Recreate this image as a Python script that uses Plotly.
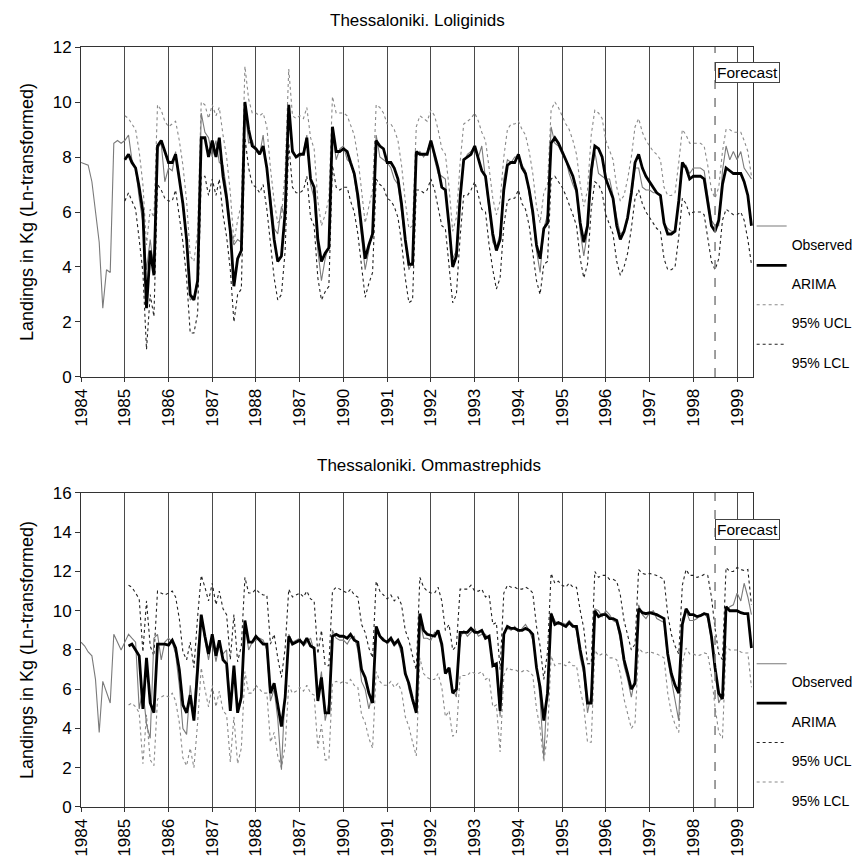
import pandas as pd
import plotly.graph_objects as go

# ---------------- data ----------------
MONTHS = pd.date_range("1984-01-01", "1999-05-01", freq="MS")
YEAR_TICKS = [f"{y}-01-01" for y in range(1984, 2000)]
YEAR_LABELS = ["1984", "1985", "1986", "1987", "1988", "1987", "1990", "1991",
               "1992", "1993", "1994", "1995", "1996", "1997", "1998", "1999"]
FORECAST_START = "1998-07-01"

# Thessaloniki. Loliginids (Jan 1984 - May 1999)
lol_observed = [
    7.8, 7.75, 7.7, 7.1, 6.1, 4.9, 2.5, 3.9, 3.8, 8.5, 8.6, 8.5,
    8.6, 8.8, 7.9, 7.6, 6.5, 5.6, 3.9, 5.0, 3.9, 8.3, 8.5, 7.1,
    7.6, 7.5, 8.2, 7.3, 6.2, 5.0, 2.8, 2.9, 3.6, 9.6, 8.9, 8.7,
    8.0, 8.6, 7.8, 7.7, 6.8, 5.5, 4.8, 5.0, 4.9, 9.8, 8.5, 8.6,
    8.2, 8.1, 8.8, 7.5, 6.6, 5.4, 5.2, 6.2, 5.8, 9.9, 8.3, 8.0,
    8.0, 8.2, 8.8, 7.0, 6.5, 4.6, 3.5, 4.3, 4.8, 8.9, 7.9, 8.3,
    8.4, 7.9, 7.8, 7.3, 6.3, 5.0, 3.9, 4.6, 5.4, 8.8, 8.0, 7.9,
    7.8, 7.6, 7.2, 7.0, 6.0, 4.8, 3.9, 4.2, 8.0, 8.2, 8.0, 8.2,
    8.6, 7.9, 7.4, 7.3, 7.2, 5.3, 4.3, 4.6, 6.8, 7.8, 8.1, 8.2,
    8.4, 8.0, 8.4, 7.2, 6.0, 4.9, 4.7, 5.2, 7.2, 7.9, 7.8, 8.0,
    8.0, 7.7, 7.5, 6.6, 5.8, 4.6, 3.8, 5.4, 5.9, 9.1, 8.5, 8.4,
    8.1, 7.9, 7.4, 7.0, 6.7, 5.3, 4.4, 5.3, 7.2, 8.2, 7.4, 7.3,
    7.2, 7.2, 6.6, 5.8, 5.2, 5.3, 5.7, 6.5, 7.6, 7.6, 6.9, 6.8,
    6.8, 6.7, 6.7, 6.6, 5.6, 5.4, 5.3, 5.3, 6.6, 7.6, 7.7, 7.4,
    7.6, 7.6, 7.6, 7.5, 6.6, 5.7, 5.5, 5.5, 7.5, 8.4, 7.9, 8.2,
    7.9, 8.2, 7.6, 7.4, 7.2,
]
# ARIMA and limits from Jan 1985
lol_arima = [
    7.9, 8.1, 7.8, 7.6, 6.9, 6.0, 2.5, 4.6, 3.7, 8.4, 8.6, 8.2,
    7.8, 7.8, 8.1, 7.2, 6.3, 5.0, 3.0, 2.8, 3.5, 8.7, 8.7, 8.0,
    8.6, 8.0, 8.7, 7.3, 6.5, 5.3, 3.3, 4.3, 4.6, 10.0, 9.0, 8.4,
    8.3, 8.1, 8.4, 7.6, 6.2, 5.0, 4.2, 4.4, 6.0, 9.9, 8.2, 8.0,
    8.1, 8.1, 8.7, 7.2, 6.9, 5.0, 4.2, 4.5, 4.7, 9.1, 8.2, 8.2,
    8.3, 8.2, 7.8, 7.4, 6.6, 5.3, 4.3, 4.8, 5.2, 8.6, 8.4, 8.3,
    7.8, 7.8, 7.6, 7.2, 6.3, 5.0, 4.1, 4.1, 8.2, 8.1, 8.1, 8.1,
    8.6, 8.1, 7.6, 6.9, 6.8, 5.5, 4.0, 4.4, 6.5, 7.9, 8.0, 8.1,
    8.4, 7.9, 7.5, 7.3, 6.2, 5.2, 4.6, 5.0, 6.8, 7.7, 7.8, 7.8,
    8.1, 7.6, 7.4, 6.8, 6.0, 4.8, 4.3, 5.4, 5.6, 8.5, 8.7, 8.5,
    8.2, 7.9, 7.6, 7.3, 6.8, 5.6, 4.9, 5.5, 7.5, 8.4, 8.3, 8.0,
    7.2, 6.8, 6.5, 5.5, 5.0, 5.3, 5.8, 6.7, 7.8, 8.1, 7.6, 7.3,
    7.1, 6.9, 6.7, 6.6, 5.6, 5.2, 5.2, 5.3, 6.4, 7.8, 7.6, 7.2,
    7.3, 7.3, 7.3, 7.2, 6.4, 5.5, 5.3, 5.7, 7.0, 7.6, 7.5, 7.4,
    7.4, 7.4, 7.1, 6.6, 5.5,
]
lol_ucl = [
    9.5, 9.4, 9.2, 9.0, 8.2, 7.0, 4.8, 6.1, 5.8, 9.9, 9.7, 9.3,
    9.1, 9.2, 9.3, 8.6, 7.7, 6.4, 4.4, 4.2, 5.3, 10.0, 9.9, 9.4,
    9.9, 9.5, 9.8, 8.8, 8.0, 6.7, 4.9, 5.7, 6.3, 11.3, 10.1, 9.6,
    9.6, 9.5, 9.6, 9.1, 7.6, 6.4, 5.6, 5.8, 7.5, 11.2, 9.5, 9.4,
    9.5, 9.4, 9.8, 8.7, 8.3, 6.4, 5.5, 5.9, 6.5, 10.2, 9.6, 9.6,
    9.6, 9.5, 9.2, 8.8, 8.0, 6.8, 5.6, 6.2, 6.8, 9.9, 9.8, 9.6,
    9.2, 9.2, 9.0, 8.6, 7.7, 6.4, 5.4, 5.5, 9.1, 9.5, 9.4, 9.3,
    9.7, 9.5, 9.0, 8.3, 8.1, 6.9, 5.3, 5.8, 7.8, 9.2, 9.3, 9.4,
    9.6, 9.3, 8.9, 8.6, 7.6, 6.5, 5.9, 6.4, 8.0, 9.0, 9.2, 9.2,
    9.3, 9.0, 8.8, 8.2, 7.4, 6.2, 5.6, 6.7, 7.0, 9.7, 10.0, 9.8,
    9.5, 9.2, 9.0, 8.6, 8.1, 7.0, 6.2, 6.8, 8.8, 9.7, 9.6, 9.4,
    8.6, 8.2, 7.9, 6.9, 6.4, 6.6, 7.2, 8.0, 9.1, 9.4, 8.9, 8.6,
    8.4, 8.2, 8.1, 7.9, 6.9, 6.6, 6.6, 6.7, 7.8, 9.0, 8.8, 8.5,
    8.5, 8.5, 8.5, 8.4, 7.7, 6.8, 6.5, 6.9, 8.2, 9.0, 9.0, 8.9,
    8.9, 8.9, 8.6, 8.2, 7.3,
]
lol_lcl = [
    6.4, 6.7, 6.4, 6.1, 5.0, 3.8, 1.0, 3.0, 2.2, 7.0, 6.8, 6.5,
    6.4, 6.4, 6.8, 5.8, 4.9, 3.6, 1.6, 1.6, 2.3, 7.3, 7.3, 6.6,
    7.2, 6.6, 7.2, 5.9, 5.1, 3.9, 2.0, 3.0, 3.2, 8.7, 7.6, 7.0,
    6.9, 6.7, 7.0, 6.1, 4.8, 3.6, 2.8, 3.0, 4.6, 8.5, 6.9, 6.7,
    6.7, 6.8, 7.3, 5.8, 5.5, 3.6, 2.8, 3.1, 3.3, 7.7, 6.9, 6.8,
    6.9, 6.9, 6.4, 6.0, 5.2, 3.9, 2.9, 3.4, 3.8, 7.2, 7.0, 6.9,
    6.5, 6.4, 6.2, 5.8, 4.9, 3.6, 2.7, 2.8, 6.8, 6.8, 6.7, 6.8,
    7.2, 6.8, 6.2, 5.5, 5.4, 4.1, 2.7, 3.0, 5.1, 6.6, 6.6, 6.8,
    7.1, 6.6, 6.1, 6.0, 4.8, 3.9, 3.2, 3.6, 5.5, 6.4, 6.5, 6.5,
    6.8, 6.3, 6.1, 5.5, 4.6, 3.5, 3.0, 4.1, 4.2, 7.2, 7.3, 7.1,
    6.9, 6.6, 6.3, 5.9, 5.5, 4.3, 3.6, 4.1, 6.1, 7.1, 7.0, 6.7,
    5.9, 5.5, 5.2, 4.2, 3.7, 4.0, 4.5, 5.4, 6.5, 6.8, 6.3, 6.0,
    5.8, 5.6, 5.4, 5.3, 4.3, 3.9, 3.9, 4.0, 5.1, 6.5, 6.3, 5.9,
    6.0, 6.0, 6.0, 5.9, 5.1, 4.2, 3.9, 4.3, 5.7, 6.1, 6.0, 5.9,
    5.9, 6.0, 5.7, 5.0, 4.1,
]

# Thessaloniki. Ommastrephids (Jan 1984 - May 1999)
omm_observed = [
    8.4, 8.2, 7.9, 7.7, 6.5, 3.8, 6.4, 5.8, 5.3, 8.8, 8.4, 8.0,
    8.4, 8.8, 8.6, 8.4, 5.0, 6.0, 4.2, 3.5, 8.6, 8.8, 7.5, 8.4,
    8.6, 8.4, 7.8, 6.2, 4.0, 3.7, 6.2, 4.6, 8.0, 9.6, 8.5, 7.5,
    8.6, 7.4, 8.3, 7.8, 8.0, 5.0, 7.0, 4.8, 5.4, 9.4, 8.0, 8.4,
    8.5, 8.6, 8.5, 8.0, 5.4, 6.0, 4.5, 1.9, 6.0, 8.8, 8.4, 8.5,
    8.6, 8.2, 8.4, 8.6, 7.9, 5.7, 6.9, 4.4, 5.3, 9.0, 8.6, 8.5,
    8.5, 8.3, 8.6, 8.7, 8.0, 6.4, 6.0, 5.0, 5.8, 8.9, 8.7, 8.6,
    8.3, 8.5, 8.2, 8.4, 7.8, 7.0, 6.0, 5.3, 5.0, 9.5, 8.6, 8.6,
    8.5, 8.9, 8.8, 8.1, 7.0, 6.8, 6.0, 5.6, 8.6, 9.0, 8.7, 8.9,
    9.1, 8.7, 8.8, 8.8, 8.5, 7.5, 7.0, 4.6, 8.9, 9.1, 9.0, 9.2,
    8.9, 9.1, 9.3, 9.0, 8.5, 7.3, 5.5, 2.5, 6.3, 9.9, 9.5, 9.3,
    9.4, 9.3, 9.5, 9.3, 9.0, 7.6, 6.8, 4.8, 5.8, 10.1, 10.0, 9.7,
    10.0, 9.8, 9.5, 9.4, 8.5, 7.2, 6.5, 5.6, 6.6, 10.3, 9.8, 9.6,
    9.9, 10.0, 9.6, 9.5, 9.4, 7.5, 6.5, 5.6, 4.4, 9.6, 10.0, 9.5,
    9.5, 9.6, 9.8, 9.9, 9.6, 8.5, 6.8, 5.3, 5.7, 10.0, 10.2, 10.3,
    10.9, 10.5, 11.4, 10.7, 9.8,
]
# ARIMA and limits from Feb 1985
omm_arima = [
    8.2, 8.3, 8.0, 7.7, 5.0, 7.6, 5.3, 4.8, 8.3, 8.3, 8.3,
    8.25, 8.5, 8.1, 7.0, 5.2, 4.8, 5.7, 4.4, 7.0, 9.8, 8.7, 7.8,
    8.8, 7.7, 8.5, 7.5, 7.3, 4.9, 7.2, 4.8, 5.6, 9.5, 8.4, 8.4,
    8.7, 8.5, 8.3, 8.3, 5.8, 6.3, 5.1, 4.1, 5.6, 8.7, 8.3, 8.4,
    8.5, 8.3, 8.6, 8.2, 8.1, 5.4, 6.6, 4.8, 4.8, 8.7, 8.8, 8.7,
    8.7, 8.6, 8.8, 8.5, 8.4, 7.0, 6.6, 5.8, 5.3, 9.2, 8.7, 8.5,
    8.4, 8.6, 8.3, 8.5, 8.1, 6.8, 6.3, 5.5, 4.8, 9.85, 9.0, 8.8,
    8.75, 8.7, 9.0, 8.3, 6.8, 7.1, 5.8, 6.0, 8.9, 8.9, 8.9, 9.1,
    8.9, 8.9, 9.0, 8.6, 8.7, 7.2, 7.3, 4.9, 8.8, 9.2, 9.1, 9.1,
    9.0, 9.0, 9.1, 9.0, 8.8, 7.1, 6.1, 4.4, 5.8, 9.85, 9.3, 9.4,
    9.3, 9.2, 9.4, 9.2, 9.2, 8.0, 7.1, 5.3, 5.3, 10.0, 9.7, 9.8,
    9.8, 9.6, 9.6, 9.5, 8.8, 7.5, 6.8, 6.0, 6.3, 10.1, 9.9, 9.85,
    9.9, 9.85, 9.8, 9.7, 9.6, 7.8, 6.8, 6.2, 5.8, 9.3, 10.1, 9.8,
    9.8, 9.7, 9.75, 9.85, 9.8, 8.7, 7.1, 5.8, 5.5, 10.2, 10.0, 10.0,
    10.0, 9.9, 9.85, 9.85, 8.1,
]
omm_ucl = [
    11.3, 11.2, 10.9, 10.6, 7.9, 10.5, 8.2, 7.7, 11.0, 10.9, 10.8,
    10.9, 11.0, 10.7, 9.6, 7.9, 7.5, 8.4, 7.1, 9.7, 11.8, 11.2, 10.5,
    11.4, 10.3, 11.0, 10.1, 9.8, 7.5, 9.8, 7.4, 8.2, 11.7, 10.9, 10.9,
    11.1, 10.9, 10.8, 10.8, 8.3, 8.8, 7.6, 6.6, 8.1, 11.1, 10.7, 10.8,
    10.9, 10.7, 11.0, 10.6, 10.5, 7.8, 9.0, 7.2, 7.2, 11.0, 11.2, 11.1,
    11.0, 10.9, 11.1, 10.8, 10.7, 9.3, 8.9, 8.1, 7.6, 11.5, 11.0, 10.8,
    10.6, 10.8, 10.5, 10.7, 10.3, 9.0, 8.5, 7.7, 7.0, 11.7, 11.2, 11.0,
    10.9, 10.9, 11.2, 10.5, 9.0, 9.3, 8.0, 8.2, 11.1, 11.1, 11.1, 11.3,
    11.0, 11.0, 11.1, 10.7, 10.8, 9.3, 9.4, 7.0, 10.9, 11.3, 11.2, 11.2,
    11.1, 11.1, 11.2, 11.1, 10.9, 9.2, 8.2, 6.5, 7.9, 11.9, 11.4, 11.5,
    11.3, 11.2, 11.4, 11.2, 11.2, 10.0, 9.1, 7.3, 7.3, 12.0, 11.7, 11.8,
    11.8, 11.6, 11.6, 11.5, 10.8, 9.5, 8.8, 8.0, 8.3, 12.1, 11.9, 11.85,
    11.9, 11.85, 11.8, 11.7, 11.6, 9.8, 8.8, 8.2, 7.8, 11.3, 12.1, 11.8,
    11.8, 11.7, 11.75, 11.85, 11.8, 10.7, 9.1, 7.8, 7.5, 12.2, 12.0, 12.0,
    12.2, 12.1, 12.05, 12.1, 10.3,
]
omm_lcl = [
    5.2, 5.3, 5.1, 4.8, 2.2, 4.7, 2.4, 2.1, 5.5, 5.6, 5.7,
    5.6, 5.8, 5.4, 4.3, 2.5, 2.1, 3.0, 2.0, 4.3, 7.1, 6.0, 5.1,
    6.2, 5.1, 5.9, 4.9, 4.7, 2.3, 4.6, 2.2, 3.0, 6.9, 5.8, 5.8,
    6.2, 6.0, 5.8, 5.8, 3.3, 3.8, 2.6, 2.0, 3.1, 6.2, 5.8, 5.9,
    6.1, 5.9, 6.2, 5.8, 5.7, 3.0, 4.2, 2.4, 2.4, 6.3, 6.4, 6.3,
    6.4, 6.3, 6.5, 6.2, 6.1, 4.7, 4.3, 3.5, 3.0, 6.9, 6.4, 6.2,
    6.2, 6.4, 6.1, 6.3, 5.9, 4.6, 4.1, 3.3, 2.6, 7.6, 6.8, 6.6,
    6.5, 6.5, 6.8, 6.1, 4.6, 4.9, 3.6, 3.8, 6.7, 6.7, 6.7, 6.9,
    6.8, 6.8, 6.9, 6.5, 6.6, 5.1, 5.2, 2.8, 6.7, 7.1, 7.0, 7.0,
    6.9, 6.9, 7.0, 6.9, 6.7, 5.0, 4.0, 2.3, 3.7, 7.7, 7.2, 7.3,
    7.3, 7.2, 7.4, 7.2, 7.2, 6.0, 5.1, 3.3, 3.3, 8.0, 7.7, 7.8,
    7.8, 7.6, 7.6, 7.5, 6.8, 5.5, 4.8, 4.0, 4.3, 8.1, 7.9, 7.85,
    7.9, 7.85, 7.8, 7.7, 7.6, 5.8, 4.8, 4.2, 3.8, 7.3, 8.1, 7.8,
    7.8, 7.7, 7.75, 7.85, 7.8, 6.7, 5.1, 3.8, 3.5, 8.2, 8.0, 8.0,
    8.0, 7.9, 7.85, 7.85, 6.1,
]

# ---------------- figure ----------------
FONT = "Liberation Sans, Arial, Helvetica, sans-serif"
GRAY = "#8a8a8a"
DARK = "#222222"

fig = go.Figure()


def xs(series):
    # each series ends in May 1999
    return MONTHS[len(MONTHS) - len(series):]


def add_panel(obs, arima, ucl, lcl, xa, ya, legend, ucl_col, lcl_col):
    fig.add_trace(go.Scatter(x=xs(ucl), y=ucl, mode="lines", name="<br>95% UCL",
                             line=dict(color=ucl_col, width=1.1, dash="dot"),
                             xaxis=xa, yaxis=ya, legend=legend, legendrank=3))
    fig.add_trace(go.Scatter(x=xs(lcl), y=lcl, mode="lines", name="<br>95% LCL",
                             line=dict(color=lcl_col, width=1.1, dash="dot"),
                             xaxis=xa, yaxis=ya, legend=legend, legendrank=4))
    fig.add_trace(go.Scatter(x=xs(obs), y=obs, mode="lines", name="<br>Observed",
                             line=dict(color="#7a7a7a", width=1.1),
                             xaxis=xa, yaxis=ya, legend=legend, legendrank=1))
    fig.add_trace(go.Scatter(x=xs(arima), y=arima, mode="lines", name="<br>ARIMA",
                             line=dict(color="black", width=2.8),
                             xaxis=xa, yaxis=ya, legend=legend, legendrank=2))


add_panel(lol_observed, lol_arima, lol_ucl, lol_lcl, "x", "y", "legend", GRAY, DARK)
add_panel(omm_observed, omm_arima, omm_ucl, omm_lcl, "x2", "y2", "legend2", DARK, GRAY)

xcommon = dict(
    tickmode="array", tickvals=YEAR_TICKS, ticktext=YEAR_LABELS, tickangle=-90,
    tickfont=dict(size=17, color="black"), showgrid=True, gridcolor="#4a4a4a",
    gridwidth=1, showline=True, linecolor="#333333", linewidth=1, mirror=True,
    ticks="outside", ticklen=4, tickcolor="#333333", zeroline=False,
)
ycommon = dict(
    dtick=2, tickfont=dict(size=17, color="black"), showgrid=False,
    showline=True, linecolor="#333333", linewidth=1, mirror=True,
    ticks="outside", ticklen=5, tickcolor="#333333", zeroline=False,
    title=dict(text="Landings in Kg (Ln-transformed)", font=dict(size=18, color="black"),
               standoff=14),
)

legend_common = dict(
    xanchor="left", yanchor="top", font=dict(size=14, color="black", family=FONT),
    valign="top", bgcolor="rgba(0,0,0,0)", itemwidth=30, tracegroupgap=0,
    itemclick=False, itemdoubleclick=False,
)

fig.update_layout(
    width=863, height=861,
    margin=dict(l=81, r=110, t=47, b=54, autoexpand=False),
    paper_bgcolor="white", plot_bgcolor="white",
    font=dict(family=FONT, color="black"),
    showlegend=True,
    xaxis=dict(domain=[0, 1], anchor="y", range=["1984-01-01", "1999-05-14"], **xcommon),
    yaxis=dict(domain=[0.5658, 1], anchor="x", range=[0, 12], **ycommon),
    xaxis2=dict(domain=[0, 1], anchor="y2", range=["1984-01-01", "1999-05-14"], **xcommon),
    yaxis2=dict(domain=[0, 0.4132], anchor="x2", range=[0, 16], **ycommon),
    legend=dict(x=0.998, y=0.785, **legend_common),
    legend2=dict(x=0.998, y=0.209, **legend_common),
    shapes=[
        dict(type="line", xref="x", yref="y domain", x0=FORECAST_START, x1=FORECAST_START,
             y0=0, y1=1, line=dict(color="#7f7f7f", width=1.5, dash="dash")),
        dict(type="line", xref="x2", yref="y2 domain", x0=FORECAST_START, x1=FORECAST_START,
             y0=0, y1=1, line=dict(color="#7f7f7f", width=1.5, dash="dash")),
    ],
    annotations=[
        dict(text="Thessaloniki. Loliginids", xref="paper", yref="paper", x=0.5, y=1.035,
             xanchor="center", yanchor="middle", showarrow=False, font=dict(size=17)),
        dict(text="Thessaloniki. Ommastrephids", xref="paper", yref="paper", x=0.518, y=0.45,
             xanchor="center", yanchor="middle", showarrow=False, font=dict(size=17)),
        dict(text="Forecast", xref="x", yref="y domain", x=FORECAST_START, y=0.955,
             xanchor="left", yanchor="top", showarrow=False, font=dict(size=15.5),
             bgcolor="white", bordercolor="#444444", borderwidth=1, borderpad=1),
        dict(text="Forecast", xref="x2", yref="y2 domain", x=FORECAST_START, y=0.917,
             xanchor="left", yanchor="top", showarrow=False, font=dict(size=15.5),
             bgcolor="white", bordercolor="#444444", borderwidth=1, borderpad=1),
    ],
)

fig.write_html("out.html")
